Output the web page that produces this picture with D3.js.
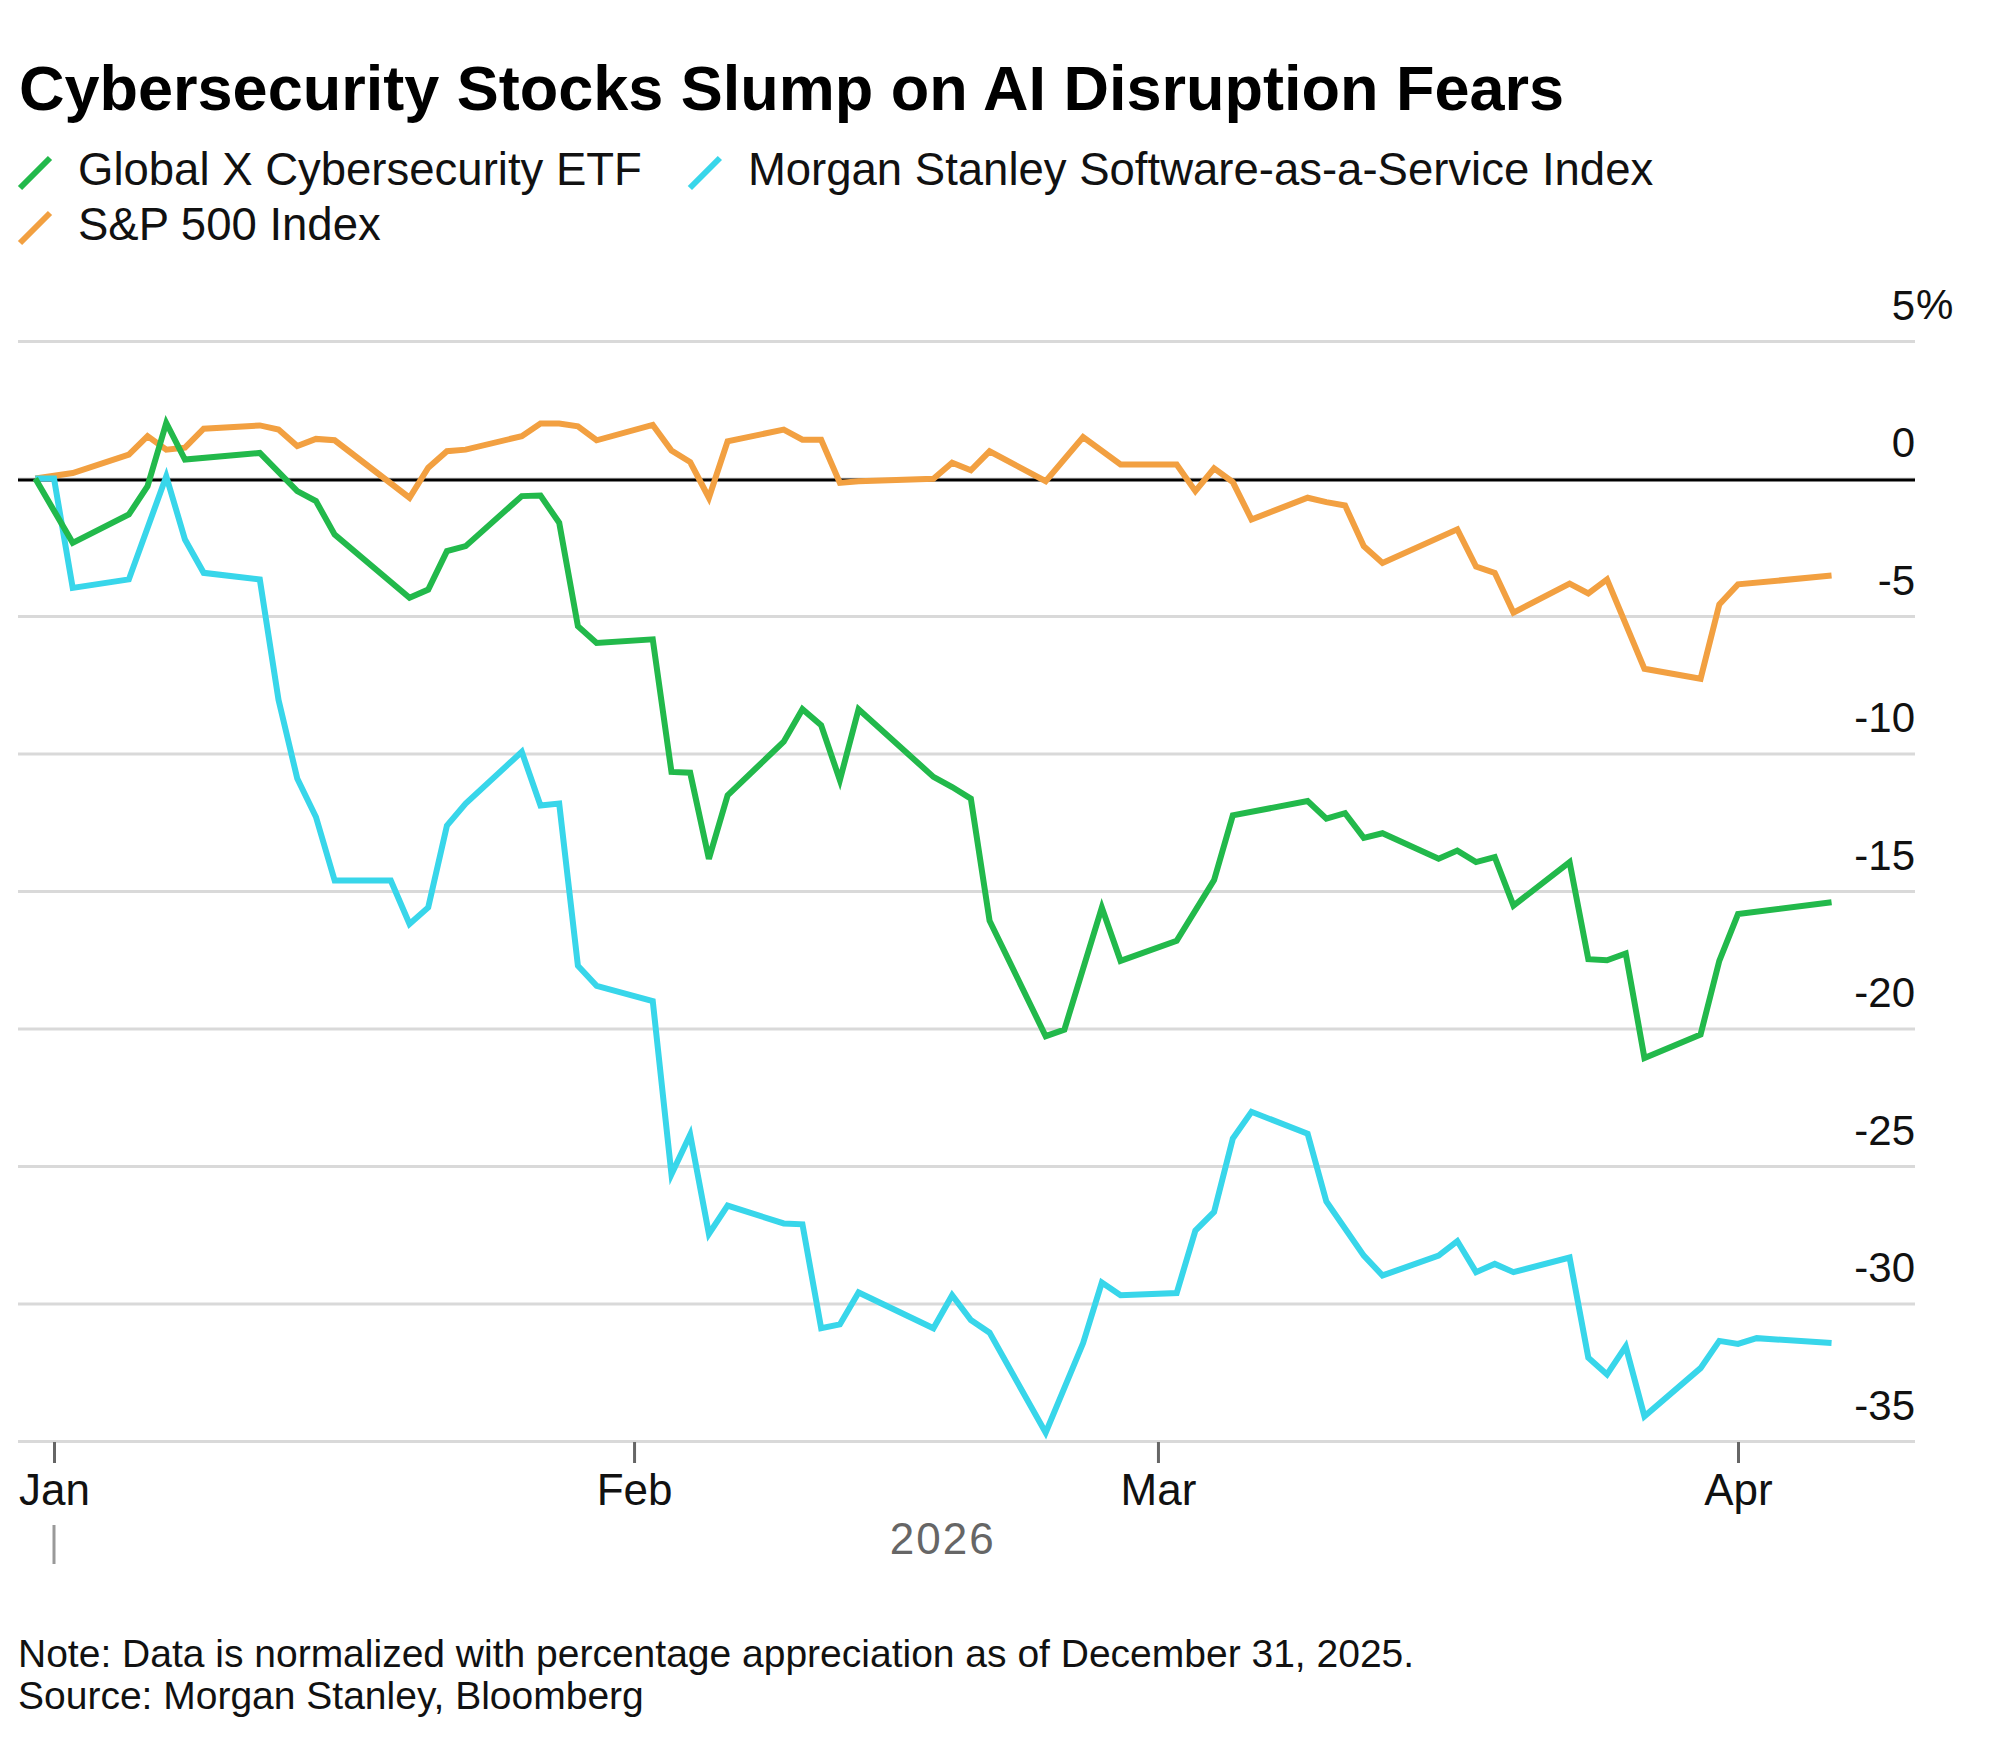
<!DOCTYPE html>
<html>
<head>
<meta charset="utf-8">
<script src="https://cdn.jsdelivr.net/npm/d3@7"></script>
<style>
  body { margin: 0; background: #fff; }
  svg { font-family: "Liberation Sans", Arial, Helvetica, sans-serif; }
</style>
</head>
<body>
<svg id="chart" width="2000" height="1755"></svg>
<script>
// trading dates (plus two index-only days)
const dates = [
  "2025-12-31", "2026-01-01", "2026-01-02", "2026-01-05", "2026-01-06", "2026-01-07",
  "2026-01-08", "2026-01-09", "2026-01-12", "2026-01-13", "2026-01-14", "2026-01-15",
  "2026-01-16", "2026-01-19", "2026-01-20", "2026-01-21", "2026-01-22", "2026-01-23",
  "2026-01-26", "2026-01-27", "2026-01-28", "2026-01-29", "2026-01-30", "2026-02-02",
  "2026-02-03", "2026-02-04", "2026-02-05", "2026-02-06", "2026-02-09", "2026-02-10",
  "2026-02-11", "2026-02-12", "2026-02-13", "2026-02-17", "2026-02-18", "2026-02-19",
  "2026-02-20", "2026-02-23", "2026-02-24", "2026-02-25", "2026-02-26", "2026-02-27",
  "2026-03-02", "2026-03-03", "2026-03-04", "2026-03-05", "2026-03-06", "2026-03-09",
  "2026-03-10", "2026-03-11", "2026-03-12", "2026-03-13", "2026-03-16", "2026-03-17",
  "2026-03-18", "2026-03-19", "2026-03-20", "2026-03-23", "2026-03-24", "2026-03-25",
  "2026-03-26", "2026-03-27", "2026-03-30", "2026-03-31", "2026-04-01", "2026-04-02",
  "2026-04-06"
];

// null = no visible point on that day
const cyberEtf = [
  0, null, -2.34, -1.31, -0.28, 2.02,
  0.69, null, 0.93, null, -0.46, -0.82,
  -2.04, null, -4.34, -4.04, -2.64, -2.46,
  -0.64, -0.62, -1.61, -5.37, -5.98, -5.85,
  -10.67, -10.7, -13.83, -11.52, -9.57, -8.39,
  -8.97, -10.97, -8.39, -10.85, -11.22, -11.64,
  -16.08, -20.28, -20.04, null, -15.6, -17.54,
  -16.81, null, -14.6, -12.25, null, -11.73,
  -12.37, -12.17, -13.07, -12.9, -13.83, -13.53,
  -13.95, -13.77, -15.53, -13.95, -17.48, -17.52,
  -17.27, -21.07, -20.22, -17.54, -15.84, null,
  -15.41
];

const saasIndex = [
  0, 0, -3.98, -3.67, null, 0.08,
  -2.22, -3.43, -3.67, -8.05, -10.91, -12.31,
  -14.62, -14.62, -16.2, -15.6, -12.62, -11.82,
  -9.94, -11.89, -11.82, -17.72, -18.45, -19.0,
  -25.3, -23.86, -27.47, -26.44, -27.09, -27.12,
  -30.9, -30.76, -29.6, -30.9, -29.7, -30.6,
  -31.06, -34.7, null, -31.44, -29.24, -29.7,
  -29.62, -27.35, -26.67, -24.0, -23.03, -23.83,
  -26.29, null, -28.26, -28.98, -28.26, -27.73,
  -28.86, -28.56, -28.86, -28.33, -31.97, -32.58,
  -31.56, -34.1, -32.35, -31.36, -31.47, -31.26,
  -31.44
];

const sp500 = [
  0, null, 0.2, 0.87, 1.54, 1.05,
  1.12, 1.81, 1.93, 1.78, 1.18, 1.44,
  1.39, null, -0.7, 0.39, 0.99, 1.05,
  1.54, 2.0, 2.0, 1.9, 1.39, 1.95,
  1.02, 0.6, -0.7, 1.35, 1.78, 1.41,
  1.41, -0.16, -0.1, -0.01, 0.57, 0.3,
  0.99, -0.1, null, 1.51, null, 0.51,
  0.51, -0.46, 0.37, -0.13, -1.49, -0.7,
  -0.86, -0.98, -2.46, -3.07, null, -1.85,
  -3.2, -3.43, -4.88, -3.82, -4.18, -3.67,
  null, -6.92, -7.28, -4.58, -3.85, null,
  -3.53
];

const seriesNames = [
  "Global X Cybersecurity ETF",
  "Morgan Stanley Software-as-a-Service Index",
  "S&P 500 Index"
];
const seriesColors = ["#22b94b", "#38d6ea", "#f2a041"];
const yTicks = [5, 0, -5, -10, -15, -20, -25, -30, -35];

const parse = d3.timeParse("%Y-%m-%d");
const parsedDates = dates.map(parse);

const svg = d3.select("#chart");

const left = 18, right = 1915;
const x = d3.scaleTime()
  .domain([parse("2026-01-01"), parse("2026-04-01")])
  .range([54, 1738]);
const y = d3.scaleLinear()
  .domain([5, -35])
  .range([341, 1441]);

// title
svg.append("text")
  .attr("x", 19)
  .attr("y", 110)
  .attr("font-size", 63)
  .attr("font-weight", "bold")
  .attr("fill", "#000")
  .text("Cybersecurity Stocks Slump on AI Disruption Fears");

// legend
const legend = svg.append("g");
const addLegend = (i, lx, ly) => {
  legend.append("line")
    .attr("x1", lx).attr("y1", ly + 3)
    .attr("x2", lx + 30).attr("y2", ly - 27)
    .attr("stroke", seriesColors[i])
    .attr("stroke-width", 6);
  return legend.append("text")
    .attr("x", lx + 58)
    .attr("y", ly)
    .attr("font-size", 45.5)
    .attr("fill", "#111")
    .text(seriesNames[i]);
};
const first = addLegend(0, 20, 185);
const w0 = first.node().getComputedTextLength();
addLegend(1, 78 + w0 + 48, 185);
addLegend(2, 20, 240);

// y grid + labels (plain hyphen for negatives, like the original)
const yAxis = svg.append("g")
  .attr("transform", `translate(${right},0)`)
  .call(d3.axisRight(y).tickValues(yTicks).tickSize(-(right - left)).tickFormat(d => String(d)));
yAxis.select(".domain").remove();
yAxis.selectAll(".tick line")
  .attr("stroke", "#d9d9d9")
  .attr("stroke-width", 3);
yAxis.selectAll(".tick text")
  .attr("x", 0)
  .attr("dy", -22)
  .attr("text-anchor", "end")
  .attr("font-size", 42)
  .attr("fill", "#111")
  .attr("font-family", null);
yAxis.append("text")
  .attr("x", 1)
  .attr("y", y(yTicks[0]) - 22)
  .attr("font-size", 42)
  .attr("fill", "#111")
  .text("%");

// zero line
svg.append("line")
  .attr("x1", left).attr("x2", right)
  .attr("y1", y(0) + 1.5).attr("y2", y(0) + 1.5)
  .attr("stroke", "#000")
  .attr("stroke-width", 3);

// x axis
const xAxis = svg.append("g")
  .attr("transform", `translate(0,${y(-35) + 1})`)
  .call(d3.axisBottom(x).ticks(d3.timeMonth.every(1)).tickSize(21).tickFormat(d3.timeFormat("%b")));
xAxis.select(".domain").remove();
xAxis.selectAll(".tick line")
  .attr("stroke", "#666")
  .attr("stroke-width", 3);
xAxis.selectAll(".tick text")
  .attr("y", 63)
  .attr("dy", 0)
  .attr("font-size", 44)
  .attr("fill", "#111")
  .attr("font-family", null);

// year marker
const jan1 = parse("2026-01-01");
svg.append("line")
  .attr("x1", x(jan1)).attr("x2", x(jan1))
  .attr("y1", 1525).attr("y2", 1564)
  .attr("stroke", "#999")
  .attr("stroke-width", 3);
svg.append("text")
  .attr("x", (x(jan1) + x(parsedDates[parsedDates.length - 1])) / 2)
  .attr("y", 1554)
  .attr("text-anchor", "middle")
  .attr("font-size", 44)
  .attr("letter-spacing", 2)
  .attr("fill", "#666")
  .text("2026");

// lines
const line = d3.line()
  .x(d => x(d.date))
  .y(d => y(d.value));

const toPoints = values => parsedDates
  .map((date, i) => ({ date, value: values[i] }))
  .filter(d => d.value != null);

// draw order: S&P underneath, ETF on top
[[sp500, 2], [saasIndex, 1], [cyberEtf, 0]].forEach(([values, i]) => {
  svg.append("path")
    .datum(toPoints(values))
    .attr("fill", "none")
    .attr("stroke", seriesColors[i])
    .attr("stroke-width", 6)
    .attr("d", line);
});

// footnotes
svg.append("text")
  .attr("x", 18)
  .attr("y", 1667)
  .attr("font-size", 39)
  .attr("fill", "#111")
  .text("Note: Data is normalized with percentage appreciation as of December 31, 2025.");
svg.append("text")
  .attr("x", 18)
  .attr("y", 1709)
  .attr("font-size", 39)
  .attr("fill", "#111")
  .text("Source: Morgan Stanley, Bloomberg");
</script>
</body>
</html>
